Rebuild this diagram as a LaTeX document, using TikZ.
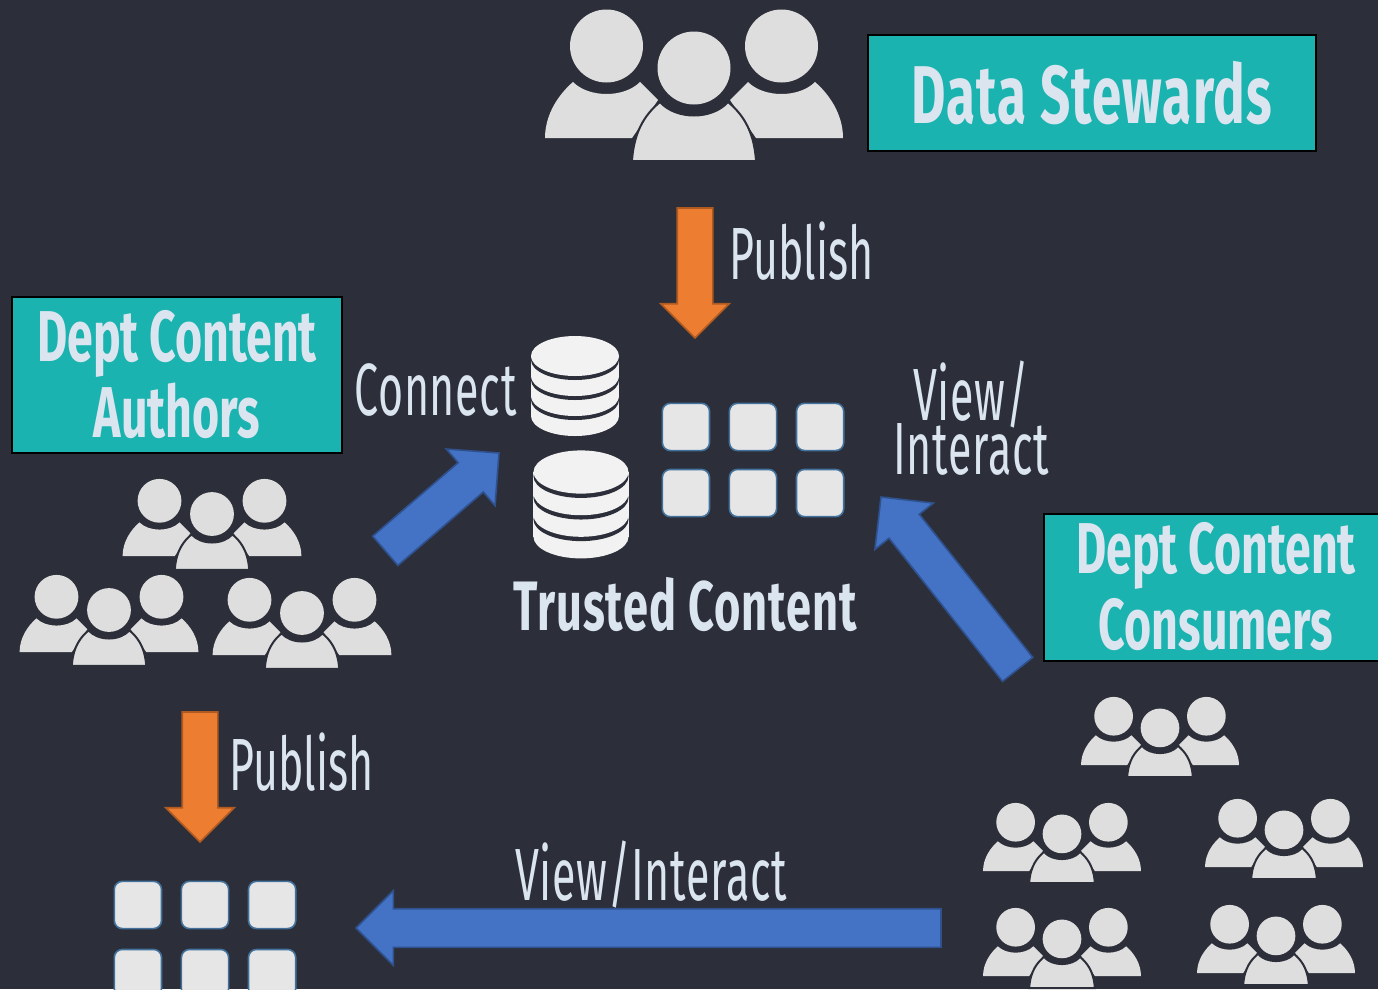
\documentclass[tikz,border=0pt]{standalone}
\usepackage{fontspec}
\usepackage{tikz}
\usetikzlibrary{positioning,matrix,shapes.arrows}
\newfontfamily\agency[FakeStretch=0.58]{Fira Sans}
\newfontfamily\agencyheavy[FakeStretch=0.645]{Fira Sans}
\definecolor{slatebg}{RGB}{44,47,58}
\definecolor{iconfill}{RGB}{222,222,222}
\definecolor{dbfill}{RGB}{242,242,242}
\definecolor{tilefill}{RGB}{230,230,230}
\definecolor{tileline}{RGB}{65,113,156}
\definecolor{boxfill}{RGB}{26,179,175}
\definecolor{lbltext}{RGB}{219,229,240}
\definecolor{pubfill}{RGB}{237,125,49}
\definecolor{publine}{RGB}{174,90,33}
\definecolor{viewfill}{RGB}{68,114,196}
\definecolor{viewline}{RGB}{47,82,143}

\tikzset{
  people/.pic={
    \foreach \side in {-1,1} {
      \fill[iconfill,xscale=\side] (-149,0) .. controls (-149,-24) and (-135,-44) .. (-121,-56)
        .. controls (-105,-40) and (-70,-40) .. (-54,-56) -- (-36,-38) -- (-62,0) -- cycle;
      \fill[iconfill] (\side*87.5,-92) circle (36.5);
    }
    \filldraw[iconfill,draw=slatebg,line width=2pt] (-62,23) .. controls (-60,-10) and (-46,-26) .. (-34,-36)
      .. controls (-18,-18) and (18,-18) .. (34,-36) .. controls (46,-26) and (60,-10) .. (62,23) -- cycle;
    \fill[iconfill] (0,-70) circle (36.5);
  },
  database/.pic={
    \foreach \level in {60,40,20} {
      \fill[dbfill] (0,\level) ellipse [x radius=44,y radius=20];
      \fill[dbfill] (-44,\level-20) rectangle (44,\level);
      \fill[slatebg] (0,\level-16) ellipse [x radius=44,y radius=20];
    }
    \fill[dbfill] (0,0) ellipse [x radius=44,y radius=20];
  }
}

\begin{document}
\begin{tikzpicture}[x=1pt,y=-1pt,
  tile/.style={rectangle,rounded corners=8pt,minimum size=47.2pt,inner sep=0pt,outer sep=0pt,fill=tilefill,draw=tileline,line width=1.6pt},
  rolebox/.style={rectangle,draw=black,line width=2pt,fill=boxfill,text=lbltext,align=center,inner sep=0pt,font=\agencyheavy\bfseries\fontsize{72}{76}\selectfont},
  publbl/.style={text=lbltext,align=center,inner sep=0pt,anchor=base,font=\agency\fontsize{74}{54}\selectfont},
  lbl/.style={publbl,font={\agency\fontsize{74}{54}\selectfont\addfontfeature{LetterSpace=1}\lineskiplimit=-50pt}},
  boldlbl/.style={publbl,font=\agencyheavy\bfseries\fontsize{70}{56}\selectfont\addfontfeature{LetterSpace=1.4}},
  block/.style={single arrow,anchor=tip,inner xsep=0pt,outer sep=0pt,line width=1.6pt,single arrow head indent=0pt,single arrow tip angle=90},
  publish/.style={block,fill=pubfill,draw=publine,inner ysep=17pt,single arrow head extend=16.5pt,minimum height=130pt},
  view/.style={block,fill=viewfill,draw=viewline,inner ysep=18.5pt,single arrow head extend=18pt}]

\fill[slatebg] (0,0) rectangle (1378,989);
\clip (0,0) rectangle (1378,989);

% data stewards
\pic (stewards) at (694,138) {people};
\node (stewardsbox)[rolebox,minimum width=448pt,minimum height=116pt,font=\agencyheavy\bfseries\fontsize{82}{76}\selectfont\addfontfeature{LetterSpace=1.4}] at (1092,93) {Data Stewards};

% trusted content
\pic (db1) at (575,356) {database};
\pic[scale=1.08] (db2) at (581,472) {database};
\matrix (trusted)[row sep=17.3pt,column sep=18.3pt,inner sep=0pt] at (753,460)
{
\node(t1)[tile]{};  \pgfmatrixnextcell \node(t2)[tile]{};  \pgfmatrixnextcell \node(t3)[tile]{};\\
\node(t4)[tile]{};  \pgfmatrixnextcell \node(t5)[tile]{};  \pgfmatrixnextcell \node(t6)[tile]{};\\
};
\node (trustedlbl)[boldlbl] at (685,630) {Trusted Content};

% dept authors
\node (authorsbox)[rolebox,minimum width=330pt,minimum height=156pt] at (177,375) {Dept Content\\Authors};
\pic[scale=.6] (authors1) at (212,556) {people};
\pic[scale=.6] (authors2) at (109,652) {people};
\pic[scale=.6] (authors3) at (302,655) {people};
\node (connectlbl)[lbl] at (435.5,415) {Connect};
\node (connectarrow)[view,rotate=40.7,minimum height=150pt] at (499,453) {};

% dept consumers
\node (consumersbox)[rolebox,minimum width=344pt,minimum height=147pt] at (1216,587) {Dept Content\\Consumers};
\pic[scale=.53] (consumers1) at (1160,765) {people};
\pic[scale=.53] (consumers2) at (1062,871) {people};
\pic[scale=.53] (consumers3) at (1284,867) {people};
\pic[scale=.53] (consumers4) at (1062,976) {people};
\pic[scale=.53] (consumers5) at (1276,973) {people};
\node (viewarrow)[view,rotate=128.4,minimum height=220pt] at (881,497) {};
\node (viewlbl)[lbl] at (971,474) {View/\\Interact};

% publish arrows
\node (publishtop)[publish,rotate=-90] at (695,338) {};
\node (publishtoplbl)[publbl] at (801.5,279) {Publish};
\node (publishdept)[publish,rotate=-90] at (200,842) {};
\node (publishdeptlbl)[publbl] at (301.5,790) {Publish};

% dept content tiles
\matrix (deptcontent)[row sep=19.3pt,column sep=18.3pt,inner sep=0pt] at (205,939)
{
\node(d1)[tile]{};  \pgfmatrixnextcell \node(d2)[tile]{};  \pgfmatrixnextcell \node(d3)[tile]{};\\
\node(d4)[tile]{};  \pgfmatrixnextcell \node(d5)[tile]{};  \pgfmatrixnextcell \node(d6)[tile]{};\\
};

% view across the bottom
\node (viewdept)[view,rotate=180,minimum height=585pt] at (356,928) {};
\node (viewdeptlbl)[lbl] at (651,900) {View/Interact};
\end{tikzpicture}
\end{document}
